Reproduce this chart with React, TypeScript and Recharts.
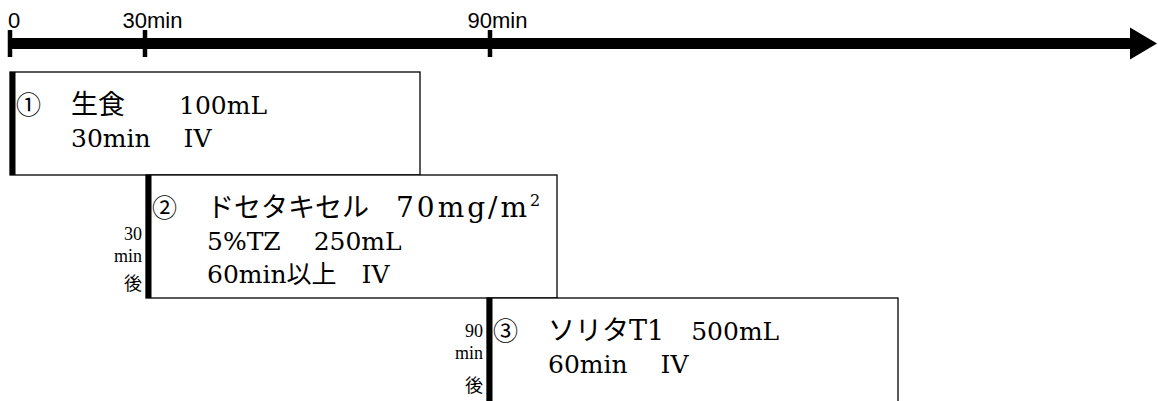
import React from "react";
import {
  ComposedChart,
  XAxis,
  YAxis,
  Scatter,
  ReferenceArea,
  ReferenceLine,
  ReferenceDot,
} from "recharts";

// timeline marks (the drawing is not to scale, so each mark has its own position)
const tickMinutes = [0, 30, 90];
const tickPos = [0, 135, 480];
const axisEnd = 1147;
const axisLevel = 43.5;

// infusion steps
const stepNo = ["①", "②", "③"];
const stepName = ["生食", "ドセタキセル", "ソリタT1"];
const stepDose = ["100mL", "70mg/m", "500mL"];
const stepSup = ["", "2", ""];
const stepDetail = [
  ["30min　 IV"],
  ["5%TZ　 250mL", "60min以上　IV"],
  ["60min　 IV"],
];
const stepDelay = [null, 30, 90];
const boxStart = [0, 136, 477];
const boxEnd = [410, 547, 888];
const boxTop = [72, 175, 298];
const boxBottom = [175, 298, 421];

const tickData = tickMinutes.map((m, i) => ({ pos: tickPos[i], y: axisLevel, min: m }));

// text layout tweaks
const nameGap = ["　　", "　", "　"];
const doseSize = [25, 28, 25];
const doseTrack = [0, 3, 0];
const delayOffset = [0, 65, 39];
const delayKanjiGap = [0, 50, 55];

const serif = "'DejaVu Serif', 'Noto Sans CJK JP', serif";
const sans = "'Liberation Sans', Arial, sans-serif";

const TickMark = (props: any) => {
  const { cx, cy, payload } = props;
  const m = payload.min;
  return (
    <g>
      <rect x={cx - 2.25} y={cy - 13.5} width={4.5} height={27} fill="#000" />
      {m === 0 ? (
        <text x={cx - 2} y={cy - 15.5} fontSize={22} fontFamily={sans} fill="#000">
          0
        </text>
      ) : (
        <>
          <text x={cx + 2} y={cy - 15.5} fontSize={22} fontFamily={sans} fill="#000" textAnchor="end">
            {m}
          </text>
          <text x={cx + 2} y={cy - 15.5} fontSize={22} fontFamily={sans} fill="#000">
            min
          </text>
        </>
      )}
    </g>
  );
};

const makeBox = (i: number) => (props: any) => {
  const { x, y, width, height } = props;
  const base = y + 42;
  const gap = 33;
  const delay = stepDelay[i];
  const dBase = y + delayOffset[i];
  return (
    <g>
      <rect x={x} y={y} width={width} height={height} fill="#fff" stroke="#000" strokeWidth={1.3} />
      <rect x={x} y={y} width={5.5} height={height} fill="#000" />
      <g fontSize={25} fontFamily={serif} fill="#000" style={{ whiteSpace: "pre" }}>
        <text x={x + 6} y={base}>
          {stepNo[i]}
        </text>
        <text x={x + 61} y={base}>
          <tspan fontSize={27}>{stepName[i] + nameGap[i]}</tspan>
          <tspan fontSize={doseSize[i]} letterSpacing={doseTrack[i]}>
            {stepDose[i]}
          </tspan>
          {stepSup[i] ? (
            <tspan dy={-11} fontSize={16}>
              {stepSup[i]}
            </tspan>
          ) : null}
        </text>
        {stepDetail[i].map((t, k) => (
          <text key={k} x={x + 61} y={base + (k + 1) * gap}>
            {t}
          </text>
        ))}
      </g>
      {delay !== null && (
        <g fontFamily="'Liberation Serif', 'Noto Sans CJK JP', serif" fontSize={18} fill="#000" textAnchor="end">
          <text x={x - 4} y={dBase}>{delay}</text>
          <text x={x - 4} y={dBase + 22}>min</text>
          <text x={x - 4} y={dBase + delayKanjiGap[i]}>後</text>
        </g>
      )}
    </g>
  );
};

const Arrow = (props: any) => {
  const { cx, cy } = props;
  return <polygon points={`${cx},${cy} ${cx - 27},${cy - 16} ${cx - 27},${cy + 16}`} fill="#000" />;
};

export default function App() {
  return (
    <div style={{ position: "absolute", left: 0, top: 0, width: 1158, height: 401, background: "#fff" }}>
      <ComposedChart width={1158} height={401} margin={{ top: 0, right: 1, bottom: 0, left: 10 }}>
        <XAxis type="number" dataKey="pos" domain={[0, axisEnd]} hide />
        <YAxis type="number" dataKey="y" domain={[0, 401]} reversed hide />
        {stepNo.map((_, i) => (
          <ReferenceArea
            key={i}
            x1={boxStart[i]}
            x2={boxEnd[i]}
            y1={boxTop[i]}
            y2={boxBottom[i]}
            ifOverflow="visible"
            shape={makeBox(i)}
          />
        ))}
        <ReferenceLine
          segment={[
            { x: 0, y: axisLevel },
            { x: axisEnd - 27, y: axisLevel },
          ]}
          stroke="#000"
          strokeWidth={11}
          ifOverflow="visible"
        />
        <ReferenceDot x={axisEnd} y={axisLevel} r={1} ifOverflow="visible" shape={Arrow} />
        <Scatter data={tickData} dataKey="y" shape={TickMark} isAnimationActive={false} />
      </ComposedChart>
    </div>
  );
}
